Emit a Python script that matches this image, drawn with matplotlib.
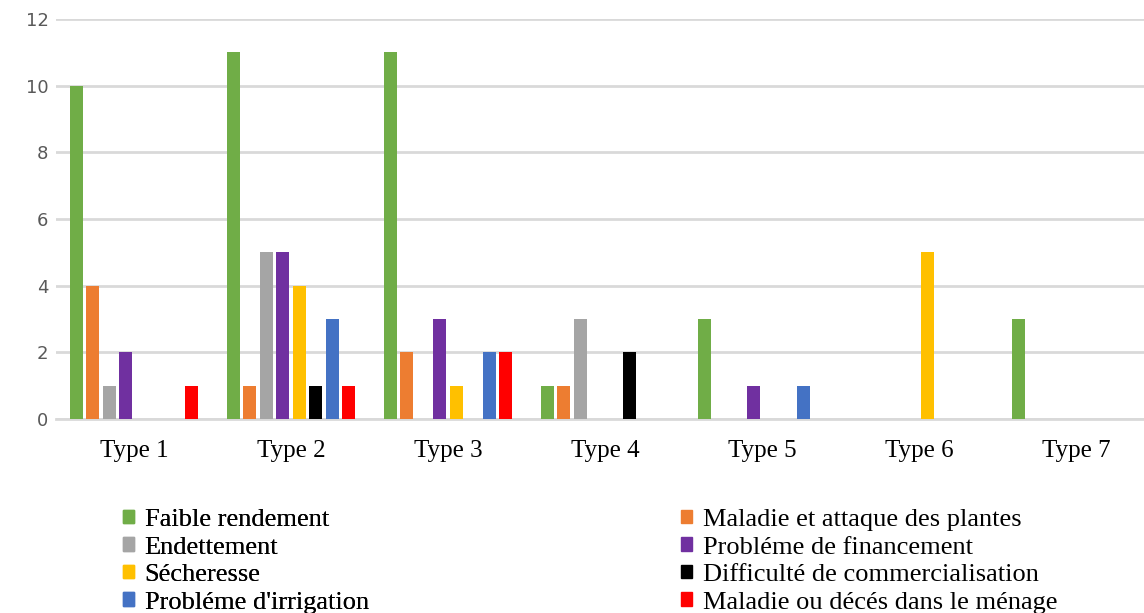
import numpy as np
import matplotlib.pyplot as plt
from matplotlib.patches import Patch

# ===================================================================
# DONNÉES
# ===================================================================
types = ["Type 1", "Type 2", "Type 3", "Type 4", "Type 5", "Type 6", "Type 7"]

faible_rendement = [10, 11, 11, 1, 3, 0, 3]
maladie_plantes = [4, 1, 2, 1, 0, 0, 0]
endettement = [1, 5, 0, 3, 0, 0, 0]
probleme_financement = [2, 5, 3, 0, 1, 0, 0]
secheresse = [0, 4, 1, 0, 0, 5, 0]
difficulte_commerce = [0, 1, 0, 2, 0, 0, 0]
probleme_irrigation = [0, 3, 2, 0, 1, 0, 0]
maladie_menage = [1, 1, 2, 0, 0, 0, 0]

series = [
    ("Faible rendement", faible_rendement, "#70AD47"),
    ("Maladie et attaque des plantes", maladie_plantes, "#ED7D31"),
    ("Endettement", endettement, "#A5A5A5"),
    ("Probléme de financement", probleme_financement, "#7030A0"),
    ("Sécheresse", secheresse, "#FFC000"),
    ("Difficulté de commercialisation", difficulte_commerce, "#000000"),
    ("Probléme d'irrigation", probleme_irrigation, "#4472C4"),
    ("Maladie ou décés dans le ménage", maladie_menage, "#FF0000"),
]

SERIF = "Liberation Serif"

# ===================================================================
# GRAPHIQUE
# ===================================================================
W, H = 1144, 613
fig = plt.figure(figsize=(W / 100, H / 100), dpi=100)
ax = fig.add_axes([55.5 / W, (H - 419) / H, (1154.5 - 55.5) / W, 400 / H])

x = np.arange(len(types))
slot = 0.1055
width = 0.083
for i, (label, vals, color) in enumerate(series):
    offs = (i - 3.5) * slot
    ax.bar(x + offs, vals, width=width, color=color, label=label, zorder=3)

ax.set_xlim(-0.5, len(types) - 0.5)
ax.set_ylim(0, 12)
ax.set_yticks(range(0, 13, 2))
ax.grid(True, axis="y", color="#d9d9d9", linewidth=2, zorder=0)
for s in ["top", "right", "left"]:
    ax.spines[s].set_visible(False)
ax.spines["bottom"].set_color("#d9d9d9")
ax.spines["bottom"].set_linewidth(2)
ax.tick_params(axis="both", length=0)
ax.tick_params(axis="y", labelsize=13, labelcolor="#595959", pad=5)
ax.set_xticks(x)
ax.set_xticklabels(types, fontfamily=SERIF, fontsize=18)
ax.tick_params(axis="x", pad=15)

handles = [Patch(color=c) for _, _, c in series]
labels = [l for l, _, _ in series]
left_idx = [0, 2, 4, 6]
right_idx = [1, 3, 5, 7]

common = dict(frameon=False, loc="upper left", borderpad=0, borderaxespad=0,
              handlelength=0.42, handleheight=0.42, handletextpad=0.4,
              labelspacing=0.21, prop={"family": SERIF, "size": 19})
leg1 = fig.legend([handles[i] for i in left_idx], [labels[i] for i in left_idx],
                  bbox_to_anchor=(123 / W, (H - 509) / H), **common)
fig.add_artist(leg1)
fig.legend([handles[i] for i in right_idx], [labels[i] for i in right_idx],
           bbox_to_anchor=(681 / W, (H - 509) / H), **common)

fig.savefig("out.png", dpi=100)
